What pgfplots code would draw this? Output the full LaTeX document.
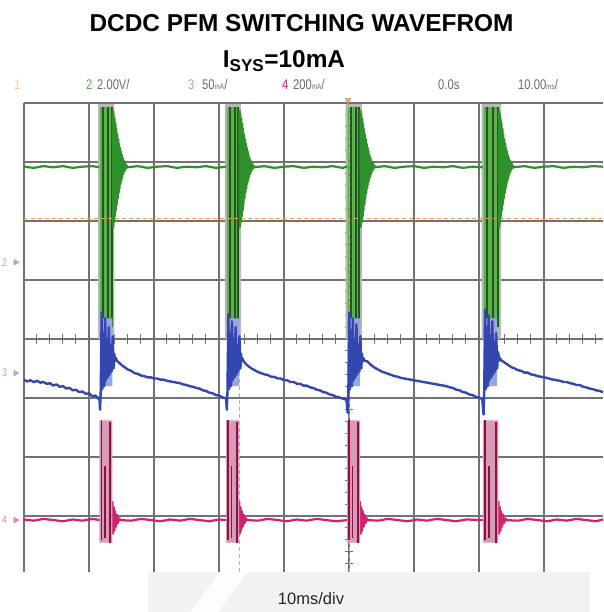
\documentclass[border=0pt]{standalone}
\usepackage{pgfplots}
\pgfplotsset{compat=1.18}
\usepackage{fontspec}
\setmainfont{Liberation Sans}
\newfontfamily\hdr[FakeStretch=0.8]{Liberation Sans}

\definecolor{gridc}{HTML}{727272}
\definecolor{gband}{HTML}{B4BAB4}
\definecolor{gfill}{HTML}{62AE50}
\definecolor{gdark}{HTML}{1C5A1C}
\definecolor{gline}{HTML}{2F912B}
\definecolor{bfill}{HTML}{9AA5DC}
\definecolor{bline}{HTML}{3447B0}
\definecolor{pfill}{HTML}{D99AB7}
\definecolor{pdark}{HTML}{8C1244}
\definecolor{pline}{HTML}{D2226E}
\definecolor{orc}{HTML}{F2A052}
\definecolor{boxc}{HTML}{F2F2F2}
\definecolor{hdrc}{HTML}{6A6A6A}

% small unit letters as the scope prints them
\newcommand{\un}[1]{{\fontsize{8}{8}\selectfont #1}}

\begin{document}
\begin{tikzpicture}
\useasboundingbox (0,0) rectangle (603pt,612pt);

% title
\node[anchor=base, font=\fontsize{24.4}{26}\selectfont\bfseries] at (301.5pt,580pt) {DCDC PFM SWITCHING WAVEFROM};
\node[anchor=base, font=\fontsize{24.4}{26}\selectfont\bfseries] at (284pt,544pt) {I\textsubscript{SYS}=10mA};

% scope header
\begin{scope}[every node/.style={anchor=base west, inner sep=0pt, font=\hdr\fontsize{14}{14}\selectfont}]
\node[text=orc!60] at (14pt,522pt) {1};
\node[text=gline!80] at (86pt,522pt) {2};
\node[text=hdrc] at (97pt,522pt) {2.00V/};
\node[text=bline!50] at (188pt,522pt) {3};
\node[text=hdrc] at (202pt,522pt) {50\un{mA}/};
\node[text=pline] at (282pt,522pt) {4};
\node[text=hdrc] at (293pt,522pt) {200\un{mA}/};
\node[text=hdrc] at (438pt,522pt) {0.0s};
\node[text=hdrc] at (518pt,522pt) {10.00\un{ms}/};
\end{scope}

\begin{axis}[
    at={(24pt,40pt)}, anchor=south west,
    scale only axis, width=579pt, height=469pt,
    xmin=0, xmax=89.08, ymin=0.05, ymax=8,
    xtick={0,10,...,80}, ytick={1,...,8},
    xticklabels={}, yticklabels={},
    major tick length=0pt,
    grid=major,
    major grid style={line width=1.5pt, color=gridc},
    axis line style={draw=none},
    clip=false,
    unbounded coords=jump,
    every axis plot/.append style={line join=round},
]

% ticks on the centre lines
\pgfplotsinvokeforeach{2,4,...,88}{\draw[gridc, line width=1pt] (axis cs:#1,3.92) -- (axis cs:#1,4.08);}
\pgfplotsinvokeforeach{0.2,0.4,...,7.8}{\draw[gridc, line width=1pt] (axis cs:49.4,#1) -- (axis cs:50.6,#1);}

% CH2 (green) bursts
\addplot[fill=gband, draw=none] coordinates {(11.4,4.0)(11.4,7.98)(13.9,7.98)(13.9,4.0)(11.4,4.0)};
\addplot[fill=gband, draw=none] coordinates {(30.9,4.0)(30.9,7.98)(33.4,7.98)(33.4,4.0)(30.9,4.0)};
\addplot[fill=gband, draw=none] coordinates {(49.5,4.0)(49.5,7.98)(52.0,7.98)(52.0,4.0)(49.5,4.0)};
\addplot[fill=gband, draw=none] coordinates {(70.4,4.0)(70.4,7.98)(73.4,7.98)(73.4,4.0)(70.4,4.0)};
\addplot[fill=gfill, draw=none] coordinates {(11.7,4.2)(11.7,7.93)(13.6,7.93)(13.6,4.2)(11.7,4.2)};
\addplot[fill=gfill, draw=none] coordinates {(31.2,4.2)(31.2,7.93)(33.1,7.93)(33.1,4.2)(31.2,4.2)};
\addplot[fill=gfill, draw=none] coordinates {(49.8,4.2)(49.8,7.93)(51.7,7.93)(51.7,4.2)(49.8,4.2)};
\addplot[fill=gfill, draw=none] coordinates {(70.7,4.2)(70.7,7.93)(73.0,7.93)(73.0,4.2)(70.7,4.2)};
\addplot[gdark, line width=2pt] coordinates {
 (12.15,4.2)(12.15,7.93)(12.2,nan)(12.95,4.2)(12.95,7.93)(13.0,nan)(13.5,4.2)(13.5,7.93)(13.55,nan)
 (31.65,4.2)(31.65,7.93)(31.7,nan)(32.45,4.2)(32.45,7.93)(32.5,nan)(33.0,4.2)(33.0,7.93)(33.05,nan)
 (50.25,4.2)(50.25,7.93)(50.3,nan)(51.05,4.2)(51.05,7.93)(51.1,nan)(51.6,4.2)(51.6,7.93)(51.65,nan)
 (71.2,4.2)(71.2,7.93)(71.25,nan)(72.1,4.2)(72.1,7.93)(72.15,nan)(72.9,4.2)(72.9,7.93)};

% trigger cursors
\addplot[orc, line width=1pt, dash pattern=on 4pt off 3pt] coordinates {(0,6.05)(89.08,6.05)};
\addplot[orc, line width=1pt, dash pattern=on 4pt off 3pt] coordinates {(33.2,0.05)(33.2,8)};
\addplot[orc, line width=1pt, dash pattern=on 4pt off 3pt] coordinates {(50.15,0.05)(50.15,8)};

% CH2 (green) trace
\addplot[gline, line width=2.2pt] coordinates {
 (0,6.92)(1.5,6.90)(3,6.93)(4.5,6.91)(6,6.93)(7.5,6.90)(9,6.92)(10.5,6.93)(11.6,6.91)(11.65,nan)
 (13.65,7.88)(13.72,5.9)(13.79,7.82)(13.86,5.98)(13.93,7.74)(14.00,6.08)(14.07,7.65)(14.14,6.18)(14.21,7.56)(14.28,6.28)
 (14.35,7.47)(14.42,6.38)(14.49,7.39)(14.56,6.47)(14.63,7.31)(14.70,6.55)(14.77,7.24)(14.84,6.62)(14.91,7.18)(14.98,6.68)
 (15.05,7.12)(15.12,6.74)(15.19,7.07)(15.26,6.79)(15.33,7.03)(15.40,6.83)(15.47,7.0)(15.54,6.86)(15.62,6.97)(15.70,6.89)(15.80,6.94)(15.90,6.91)
 (17.5,6.93)(19,6.90)(20.5,6.92)(22,6.93)(23.5,6.90)(25,6.92)(26.5,6.91)(28,6.93)(29.5,6.90)(31.1,6.92)(31.15,nan)
 (33.15,7.88)(33.22,5.9)(33.29,7.82)(33.36,5.98)(33.43,7.74)(33.50,6.08)(33.57,7.65)(33.64,6.18)(33.71,7.56)(33.78,6.28)
 (33.85,7.47)(33.92,6.38)(33.99,7.39)(34.06,6.47)(34.13,7.31)(34.20,6.55)(34.27,7.24)(34.34,6.62)(34.41,7.18)(34.48,6.68)
 (34.55,7.12)(34.62,6.74)(34.69,7.07)(34.76,6.79)(34.83,7.03)(34.90,6.83)(34.97,7.0)(35.04,6.86)(35.12,6.97)(35.20,6.89)(35.30,6.94)(35.40,6.91)
 (37,6.93)(38.5,6.90)(40,6.92)(41.5,6.93)(43,6.90)(44.5,6.92)(46,6.91)(47.5,6.93)(49,6.90)(49.7,6.92)(49.75,nan)
 (51.75,7.88)(51.82,5.9)(51.89,7.82)(51.96,5.98)(52.03,7.74)(52.10,6.08)(52.17,7.65)(52.24,6.18)(52.31,7.56)(52.38,6.28)
 (52.45,7.47)(52.52,6.38)(52.59,7.39)(52.66,6.47)(52.73,7.31)(52.80,6.55)(52.87,7.24)(52.94,6.62)(53.01,7.18)(53.08,6.68)
 (53.15,7.12)(53.22,6.74)(53.29,7.07)(53.36,6.79)(53.43,7.03)(53.50,6.83)(53.57,7.0)(53.64,6.86)(53.72,6.97)(53.80,6.89)(53.90,6.94)(54.00,6.91)
 (55.5,6.93)(57,6.90)(58.5,6.92)(60,6.93)(61.5,6.90)(63,6.92)(64.5,6.91)(66,6.93)(67.5,6.90)(69,6.92)(70.6,6.91)(70.65,nan)
 (73.05,7.88)(73.12,5.9)(73.19,7.82)(73.26,5.98)(73.33,7.74)(73.40,6.08)(73.47,7.65)(73.54,6.18)(73.61,7.56)(73.68,6.28)
 (73.75,7.47)(73.82,6.38)(73.89,7.39)(73.96,6.47)(74.03,7.31)(74.10,6.55)(74.17,7.24)(74.24,6.62)(74.31,7.18)(74.38,6.68)
 (74.45,7.12)(74.52,6.74)(74.59,7.07)(74.66,6.79)(74.73,7.03)(74.80,6.83)(74.87,7.0)(74.94,6.86)(75.02,6.97)(75.10,6.89)(75.20,6.94)(75.30,6.91)
 (77,6.93)(78.5,6.90)(80,6.92)(81.5,6.93)(83,6.90)(84.5,6.92)(86,6.91)(87.5,6.93)(89.08,6.92)};

% CH3 (blue) bursts and trace
\addplot[fill=bfill, draw=none] coordinates {(11.7,3.2)(11.7,4.35)(13.6,4.35)(13.6,3.2)(11.7,3.2)};
\addplot[fill=bfill, draw=none] coordinates {(31.2,3.2)(31.2,4.35)(33.1,4.35)(33.1,3.2)(31.2,3.2)};
\addplot[fill=bfill, draw=none] coordinates {(49.8,3.2)(49.8,4.35)(51.7,4.35)(51.7,3.2)(49.8,3.2)};
\addplot[fill=bfill, draw=none] coordinates {(70.7,3.2)(70.7,4.35)(72.8,4.35)(72.8,3.2)(70.7,3.2)};
\addplot[bline, line width=2.4pt] coordinates {
 (0,3.31)(0.5,3.28)(1,3.30)(1.5,3.27)(2,3.29)(2.5,3.26)(3,3.27)(3.5,3.24)(4,3.25)(4.5,3.21)(5,3.23)(5.5,3.19)
 (6,3.20)(6.5,3.16)(7,3.17)(7.5,3.13)(8,3.14)(8.5,3.10)(9,3.11)(9.5,3.07)(10,3.08)(10.5,3.03)(11,3.04)(11.4,2.99)(11.6,3.01)
 (11.7,2.80)(11.8,3.10)(11.95,4.45)(12.05,3.15)(12.2,4.1)(12.35,3.2)(12.5,4.35)(12.6,3.3)(12.75,4.0)(12.9,3.35)
 (13.05,4.2)(13.2,3.4)(13.35,3.9)(13.5,3.45)(13.65,4.05)(13.8,3.5)(13.9,3.75)(14.0,3.62)(14.1,3.68)(14.3,3.63)
 (14.6,3.60)(15,3.56)(15.5,3.52)(16,3.48)(16.5,3.46)(17,3.42)(17.5,3.41)(18,3.38)(18.5,3.37)(19,3.35)(19.5,3.35)
 (20,3.33)(20.5,3.33)(21,3.31)(21.5,3.31)(22,3.29)(22.5,3.28)(23,3.27)(23.5,3.26)(24,3.25)(24.5,3.23)(25,3.22)
 (25.5,3.20)(26,3.19)(26.5,3.17)(27,3.16)(27.5,3.13)(28,3.12)(28.5,3.09)(29,3.08)(29.5,3.05)(30,3.04)(30.5,3.01)(31.0,3.00)(31.1,2.98)
 (31.2,2.80)(31.3,3.10)(31.45,4.42)(31.55,3.15)(31.7,4.1)(31.85,3.2)(32.0,4.3)(32.1,3.3)(32.25,4.0)(32.4,3.35)
 (32.55,4.2)(32.7,3.4)(32.85,3.9)(33.0,3.45)(33.15,4.05)(33.3,3.5)(33.4,3.75)(33.5,3.62)(33.6,3.67)(33.8,3.62)
 (34.1,3.58)(34.5,3.54)(35,3.50)(35.5,3.47)(36,3.44)(36.5,3.42)(37,3.40)(37.5,3.39)(38,3.36)(38.5,3.36)(39,3.33)
 (39.5,3.33)(40,3.30)(40.5,3.30)(41,3.27)(41.5,3.27)(42,3.24)(42.5,3.24)(43,3.21)(43.5,3.21)(44,3.18)(44.5,3.17)
 (45,3.14)(45.5,3.13)(46,3.10)(46.5,3.09)(47,3.06)(47.5,3.05)(48,3.02)(48.5,3.01)(49,2.99)(49.6,2.97)
 (49.8,2.75)(49.9,3.10)(50.05,4.45)(50.15,3.15)(50.3,4.15)(50.45,3.2)(50.6,4.35)(50.7,3.3)(50.85,4.0)(51.0,3.35)
 (51.15,4.25)(51.3,3.4)(51.45,3.9)(51.6,3.45)(51.75,4.05)(51.9,3.5)(52.0,3.75)(52.1,3.62)(52.2,3.68)(52.4,3.63)
 (52.8,3.62)(53.2,3.58)(53.6,3.54)(54,3.51)(54.5,3.48)(55,3.45)(55.5,3.43)(56,3.41)(56.5,3.39)(57,3.37)(57.5,3.36)
 (58,3.34)(58.5,3.33)(59,3.32)(59.5,3.31)(60,3.30)(60.5,3.29)(61,3.28)(61.5,3.27)(62,3.26)(62.5,3.25)(63,3.24)
 (63.5,3.23)(64,3.22)(64.5,3.21)(65,3.20)(65.5,3.18)(66,3.17)(66.5,3.14)(67,3.13)(67.5,3.10)(68,3.09)(68.5,3.06)
 (69,3.05)(69.5,3.02)(70,3.01)(70.5,2.98)
 (70.7,2.72)(70.8,3.10)(70.95,4.5)(71.05,3.15)(71.2,4.2)(71.35,3.2)(71.5,4.4)(71.6,3.3)(71.75,4.05)(71.9,3.35)
 (72.05,4.3)(72.2,3.4)(72.35,3.95)(72.5,3.45)(72.65,4.1)(72.8,3.5)(72.95,3.78)(73.1,3.63)(73.2,3.68)(73.4,3.64)
 (73.8,3.61)(74.2,3.58)(74.6,3.55)(75,3.52)(75.5,3.50)(76,3.47)(76.5,3.46)(77,3.43)(77.5,3.43)(78,3.40)(78.5,3.39)
 (79,3.37)(79.5,3.36)(80,3.35)(80.5,3.34)(81,3.32)(81.5,3.31)(82,3.30)(82.5,3.29)(83,3.27)(83.5,3.27)(84,3.25)
 (84.5,3.24)(85,3.22)(85.5,3.22)(86,3.19)(86.5,3.18)(87,3.16)(87.5,3.15)(88,3.13)(88.5,3.12)(89.08,3.10)};

% CH4 (pink) bursts and trace
\addplot[pline, line width=2.2pt] coordinates {
 (0,0.94)(1.5,0.92)(3,0.95)(4.5,0.93)(6,0.91)(7.5,0.94)(9,0.92)(10.5,0.95)(11.65,0.93)(11.7,nan)
 (13.6,1.25)(13.7,0.7)(13.8,1.15)(13.9,0.75)(14.0,1.08)(14.15,0.82)(14.3,1.02)(14.45,0.88)(14.65,0.96)(14.85,0.93)
 (16.5,0.92)(18,0.95)(19.5,0.93)(21,0.91)(22.5,0.94)(24,0.92)(25.5,0.95)(27,0.93)(28.5,0.91)(30,0.94)(31.15,0.93)(31.2,nan)
 (33.1,1.25)(33.2,0.7)(33.3,1.15)(33.4,0.75)(33.5,1.08)(33.65,0.82)(33.8,1.02)(33.95,0.88)(34.15,0.96)(34.35,0.93)
 (36,0.92)(37.5,0.95)(39,0.93)(40.5,0.91)(42,0.94)(43.5,0.92)(45,0.95)(46.5,0.93)(48,0.91)(49.75,0.93)(49.8,nan)
 (51.7,1.25)(51.8,0.7)(51.9,1.15)(52.0,0.75)(52.1,1.08)(52.25,0.82)(52.4,1.02)(52.55,0.88)(52.75,0.96)(52.95,0.93)
 (54.5,0.92)(56,0.95)(57.5,0.93)(59,0.91)(60.5,0.94)(62,0.92)(63.5,0.95)(65,0.93)(66.5,0.91)(68,0.94)(70.65,0.93)(70.7,nan)
 (73.0,1.25)(73.1,0.7)(73.2,1.15)(73.3,0.75)(73.4,1.08)(73.55,0.82)(73.7,1.02)(73.85,0.88)(74.05,0.96)(74.25,0.93)
 (76,0.92)(77.5,0.95)(79,0.93)(80.5,0.91)(82,0.94)(83.5,0.92)(85,0.95)(86.5,0.93)(88,0.91)(89.08,0.94)};
\addplot[fill=pfill, draw=none] coordinates {(11.6,0.55)(11.6,2.62)(13.6,2.62)(13.6,0.55)(11.6,0.55)};
\addplot[fill=pfill, draw=none] coordinates {(31.1,0.55)(31.1,2.62)(33.1,2.62)(33.1,0.55)(31.1,0.55)};
\addplot[fill=pfill, draw=none] coordinates {(49.7,0.55)(49.7,2.62)(51.7,2.62)(51.7,0.55)(49.7,0.55)};
\addplot[fill=pfill, draw=none] coordinates {(70.6,0.55)(70.6,2.62)(73.0,2.62)(73.0,0.55)(70.6,0.55)};
\addplot[pdark, line width=1.6pt] coordinates {
 (11.9,0.6)(11.9,2.62)(11.95,nan)(12.45,0.62)(12.45,1.85)(12.5,nan)(13.25,0.55)(13.25,2.6)(13.3,nan)
 (31.4,0.6)(31.4,2.62)(31.45,nan)(31.95,0.62)(31.95,1.85)(32.0,nan)(32.75,0.55)(32.75,2.6)(32.8,nan)
 (50.0,0.6)(50.0,2.62)(50.05,nan)(50.55,0.62)(50.55,1.85)(50.6,nan)(51.35,0.55)(51.35,2.6)(51.4,nan)
 (70.9,0.6)(70.9,2.62)(70.95,nan)(71.5,0.62)(71.5,1.85)(71.55,nan)(72.6,0.55)(72.6,2.6)};

% channel ground markers and trigger position
\addplot[only marks, mark=triangle*, mark size=3.5pt, mark options={rotate=-90, fill=gline!55, draw=gline!55}] coordinates {(-1.3,5.3)};
\addplot[only marks, mark=triangle*, mark size=3.5pt, mark options={rotate=-90, fill=bline!45, draw=bline!45}] coordinates {(-1.3,3.42)};
\addplot[only marks, mark=triangle*, mark size=3.5pt, mark options={rotate=-90, fill=pline!55, draw=pline!55}] coordinates {(-1.3,0.93)};
\node[text=gline!55, font=\hdr\fontsize{11}{11}\selectfont] at (axis cs:-3.0,5.3) {2};
\node[text=bline!45, font=\hdr\fontsize{11}{11}\selectfont] at (axis cs:-3.0,3.42) {3};
\node[text=pline!55, font=\hdr\fontsize{11}{11}\selectfont] at (axis cs:-3.0,0.93) {4};
\addplot[only marks, mark=triangle*, mark size=3.5pt, mark options={rotate=180, fill=orc, draw=orc}] coordinates {(49.85,8.05)};
\end{axis}

% caption strip
\fill[boxc] (148pt,0pt) rectangle (590pt,40pt);
\fill[white, opacity=0.85] (190pt,0pt) -- (218pt,0pt) -- (248pt,40pt) -- (220pt,40pt) -- cycle;
\node[anchor=base, font=\fontsize{16.5}{18}\selectfont, text=black!85] at (311pt,7pt) {10ms/div};
\end{tikzpicture}
\end{document}
